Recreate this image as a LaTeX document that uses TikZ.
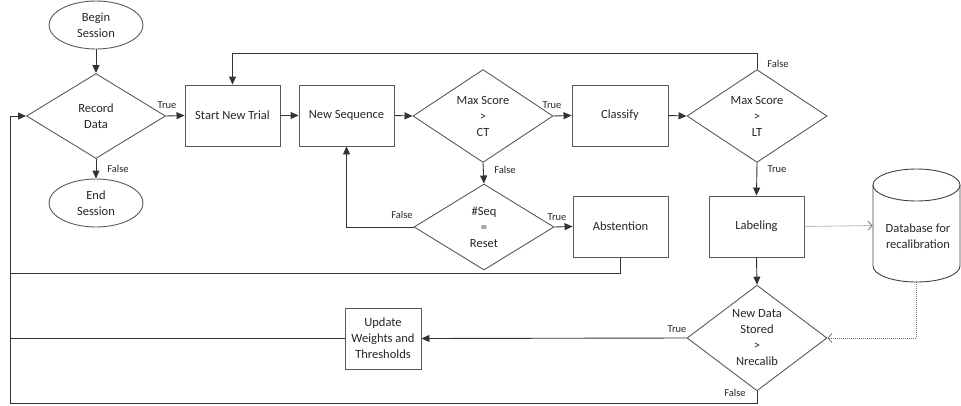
\documentclass[tikz,border=0pt]{standalone}
\usepackage{fontspec}
\setmainfont{Carlito}
\usetikzlibrary{shapes.geometric,arrows.meta}
\begin{document}
\begin{tikzpicture}[x=1pt,y=-1pt,
 shp/.style={draw=black!65, line width=0.9pt, font=\fontsize{12.5}{16}\selectfont, text=black!85, align=center, inner sep=0pt},
 box/.style={shp, rectangle, minimum width=95pt, minimum height=61pt},
 dec/.style={shp, diamond, minimum width=140pt, minimum height=85pt},
 term/.style={shp, ellipse, minimum width=94pt, minimum height=48pt},
 flow/.style={draw=black!80, line width=0.9pt, -{Triangle[length=8pt,width=7pt]}},
 plain/.style={draw=black!80, line width=0.9pt},
 dot/.style={draw=black!55, line width=0.8pt, dash pattern=on 1pt off 1pt, -{Straight Barb[length=4pt,width=9pt]}},
 lbl/.style={font=\fontsize{10.5}{12}\selectfont, text=black!85, inner sep=0pt}]

\useasboundingbox (0,0) rectangle (961,405);

% nodes
\node[term] (begin) at (96,25) {Begin\\Session};
\node[dec, minimum width=139pt] (rec) at (96,116) {Record\\Data};
\node[term] (ends) at (96,203) {End\\Session};
\node[box] (snt) at (232.5,115.5) {Start New Trial};
\node[box] (nseq) at (346.5,115.5) {New Sequence};
\node[dec] (ct) at (483,116) {Max Score\\>\\CT};
\node[box, minimum width=96pt] (cls) at (620,115.5) {Classify};
\node[dec] (lt) at (757,116) {Max Score\\>\\LT};
\node[box] (lab) at (756.5,226.5) {Labeling};
\node[box] (abst) at (620.5,226.5) {Abstention};
\node[dec, minimum height=86pt] (seq) at (484,227) {\#Seq\\=\\Reset};
\node[dec, minimum height=100pt] (nd) at (757,338) {New Data\\Stored\\>\\Nrecalib};
\node[box, minimum width=76pt] (upd) at (383,338.5) {Update\\Weights and\\Thresholds};

% database cylinder
\node[shp, draw=none, minimum width=87pt, minimum height=113pt] (db) at (916.5,225.5) {};
\draw[draw=black!75, line width=0.9pt] (873,185) -- (873,266) arc[start angle=180, end angle=0, x radius=43.5, y radius=16] -- (960,185);
\draw[draw=black!75, line width=0.9pt] (916.5,185) ellipse[x radius=43.5, y radius=16];
\node[shp, draw=none] (dbt) at (918,236) {Database for\\recalibration};

% coordinates of the feedback line
\coordinate (fbtop) at (10,273);
\coordinate (fbmid) at (10,338.5);
\coordinate (fbbot) at (10,403);

% connectors
\draw[flow] (begin) -- (rec);
\draw[flow] (rec.east) -- (snt.west);
\draw[flow] (rec.south) -- (ends.north);
\draw[flow] (snt) -- (nseq);
\draw[flow] (nseq.east) -- (ct.west);
\draw[flow] (ct.east) -- (cls.west);
\draw[flow] (cls.east) -- (lt.west);
\draw[flow] (lt.north) -- ++(0,-16) -| (snt.north);
\draw[flow] (lt.south) -- (lab.north);
\draw[flow] (ct.south) -- (seq.north);
\draw[flow] (seq.east) -- (abst.west);
\draw[flow] (seq.west) -| (nseq.south);
\draw[plain] (abst.south) |- (fbtop);
\draw[plain] (upd.west) -- (fbmid);
\draw[plain] (nd.south) |- (fbbot);
\draw[flow] (fbbot) |- (rec.west);
\draw[flow] (lab.south) -- (nd.north);
\draw[flow] (nd.west) -- (upd.east);
\draw[dot] (lab.east) -- (db.west);
\draw[dot] (db.south) |- (nd.east);

% labels
\node[lbl] (l1) at (167,105) {True};
\node[lbl] (l2) at (118,169) {False};
\node[lbl] (l3) at (552,105) {True};
\node[lbl] (l4) at (505,170) {False};
\node[lbl] (l5) at (778,64) {False};
\node[lbl] (l6) at (777,169) {True};
\node[lbl] (l7) at (402,215) {False};
\node[lbl] (l8) at (557,217) {True};
\node[lbl] (l9) at (677,329) {True};
\node[lbl] (l10) at (735,393) {False};
\end{tikzpicture}
\end{document}
